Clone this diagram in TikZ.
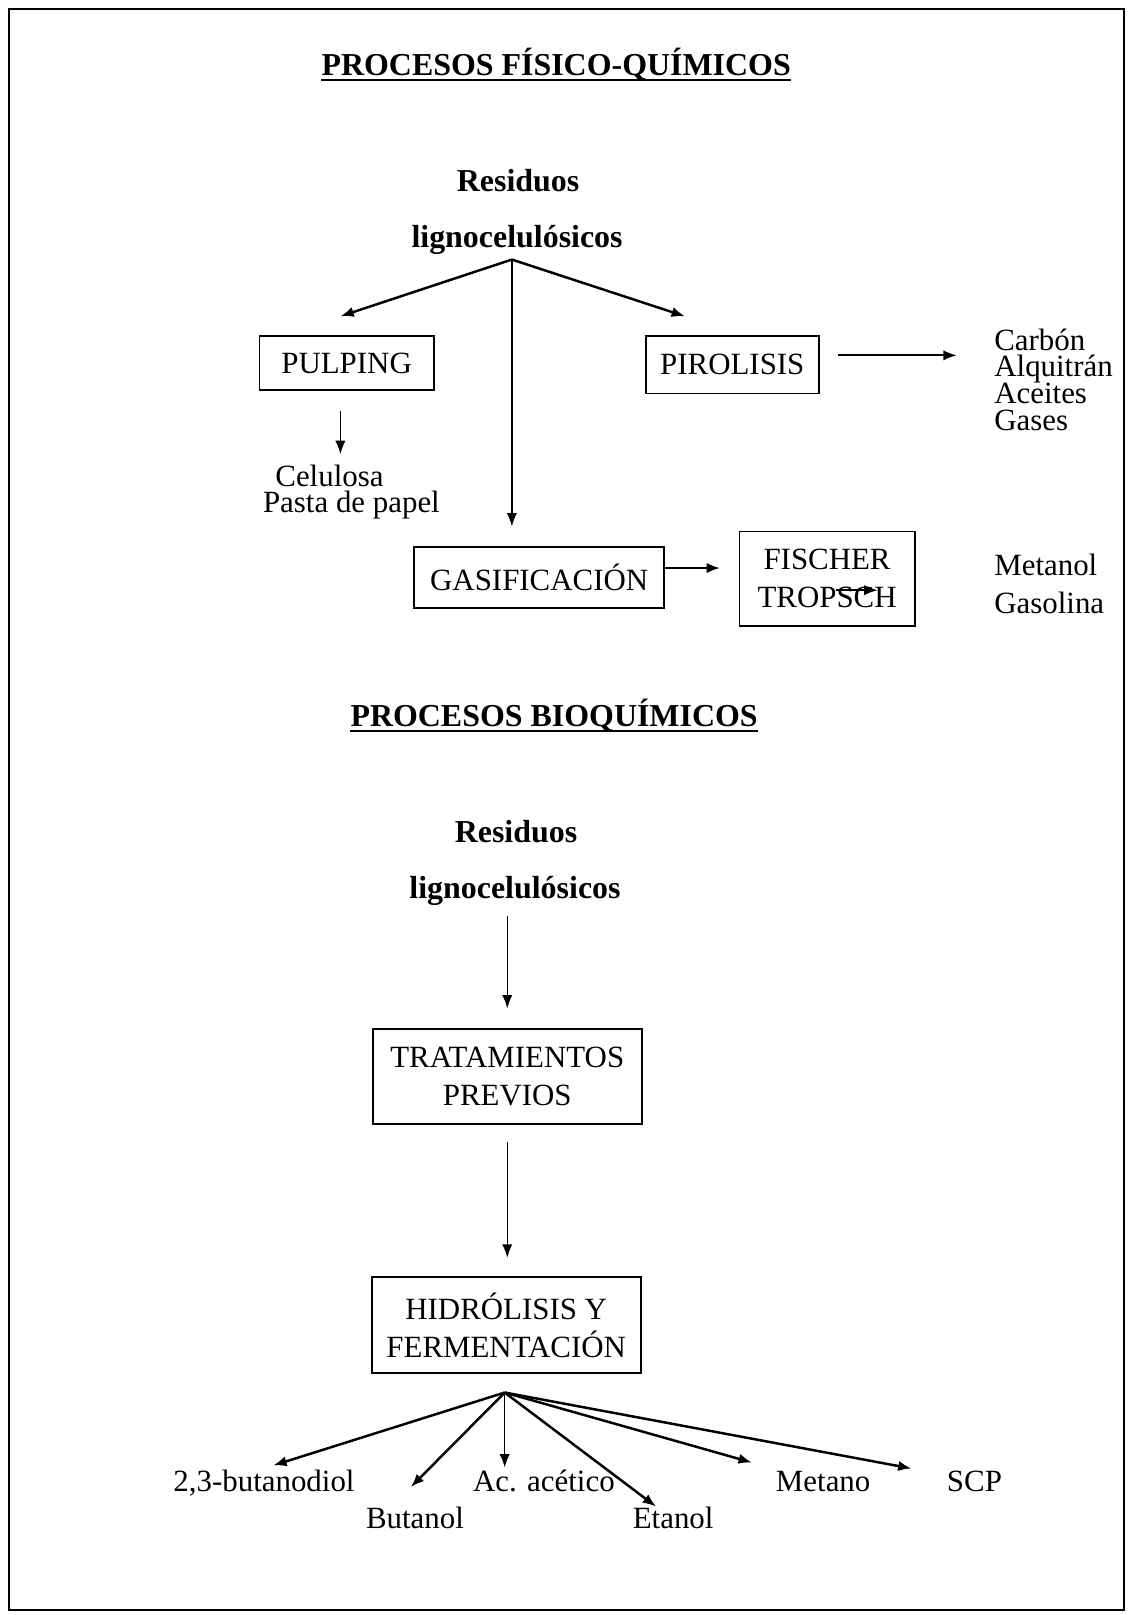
\documentclass[tikz,border=0pt]{standalone}
\usepackage{fontspec}
\setmainfont{Liberation Serif}
\usetikzlibrary{arrows.meta}

\begin{document}
\begin{tikzpicture}[x=0.5pt, y=-0.5pt, >={Latex[length=6.5pt,width=5pt]}, font=\fontsize{15}{18.5}\selectfont,
		box/.style={draw, line width=0.9pt, inner sep=0pt, align=center},
		lbl/.style={inner sep=0pt, anchor=base west},
		ttl/.style={inner sep=0pt, anchor=base, font=\fontsize{15.5}{18}\selectfont\bfseries},
		thin arrow/.style={->, line width=0.7pt},
		thick arrow/.style={->, line width=1.2pt}]
		\useasboundingbox (0,0) rectangle (1100,1568);
		\draw[line width=1pt] (9,9) rectangle (1091,1563);
		
		% procesos fisico-quimicos
		\node[ttl] (fq) at (540,73) {PROCESOS FÍSICO-QUÍMICOS};
		\draw[line width=1pt] ([yshift=-2.5pt]fq.base west) -- ([yshift=-2.5pt]fq.base east);
		\node[ttl] (res1) at (503,186) {Residuos};
		\node[ttl] (lig1) at (502,240) {lignocelulósicos};
		\coordinate (src1) at (497,252);
		
		\node[box, minimum width=84.5pt, minimum height=26.5pt] (pulping) at (336.5,352.5) {PULPING};
		\node[box, minimum width=84pt, minimum height=28pt] (pirolisis) at (711,354) {PIROLISIS};
		\node[box, minimum width=121.5pt, minimum height=29.5pt] (gasif) at (523.5,560.5) {GASIFICACIÓN};
		\node[box, minimum width=85pt, minimum height=46pt] (fischer) at (803,562) {FISCHER\\TROPSCH};
		
		\node[lbl] (celulosa) at (267,472) {Celulosa};
		\node[lbl] (pasta) at (255,498) {Pasta de papel};
		\node[lbl] (carbon) at (965,340) {Carbón};
		\node[lbl] (alquitran) at (965,366) {Alquitrán};
		\node[lbl] (aceites) at (965,392) {Aceites};
		\node[lbl] (gases) at (965,418) {Gases};
		\node[lbl] (metanol) at (965,559) {Metanol};
		\node[lbl] (gasolina) at (965,596) {Gasolina};
		
		\draw[thick arrow] (src1) -- ([xshift=-3pt,yshift=9pt]pulping.north);
		\draw[thick arrow] (src1) -- ([xshift=-23pt,yshift=9pt]pirolisis.north);
		\draw[thin arrow, shorten >=9.5pt] (src1) -- (src1 |- gasif.north);
		\draw[thin arrow] ([xshift=-3pt,yshift=-9.5pt]pulping.south) -- ++(0,42);
		\draw[->, line width=0.9pt] ([xshift=9pt,yshift=4.5pt]pirolisis.east) -- ++(115,0);
		\draw[->, line width=1.1pt, shorten >=9pt] ([yshift=4.5pt]gasif.east) -- ([yshift=4.5pt]gasif.east -| fischer.west);
		\draw[thin arrow] ([xshift=4.5pt,yshift=-5.5pt]fischer.center) -- ++(40,0);
		
		% procesos bioquimicos
		\node[ttl] (bq) at (538,705) {PROCESOS BIOQUÍMICOS};
		\draw[line width=1pt] ([yshift=-2.5pt]bq.base west) -- ([yshift=-2.5pt]bq.base east);
		\node[ttl] (res2) at (501,818) {Residuos};
		\node[ttl] (lig2) at (500,872) {lignocelulósicos};
		
		\node[box, minimum width=130.5pt, minimum height=46pt] (tratam) at (492.5,1045) {TRATAMIENTOS\\PREVIOS};
		\node[box, minimum width=130.5pt, minimum height=46.5pt] (hidrol) at (491.5,1286.5) {HIDRÓLISIS Y\\FERMENTACIÓN};
		\coordinate (src2) at (490,1352);
		
		\node[lbl] (diol) at (168,1448) {2,3-butanodiol};
		\node[lbl] (butanol) at (355,1484) {Butanol};
		\node[lbl] (acetico) at (459,1448) {Ac. acético};
		\node[lbl] (etanol) at (614,1484) {Etanol};
		\node[lbl] (metano) at (753,1448) {Metano};
		\node[lbl] (scp) at (919,1448) {SCP};
		
		\draw[thin arrow, shorten >=9.5pt] ([yshift=-5pt]lig2.south -| tratam.north) -- (tratam.north);
		\draw[thin arrow, shorten <=8.5pt, shorten >=9pt] (tratam.south) -- (tratam.south |- hidrol.north);
		
		\draw[thick arrow] (src2) -- ([xshift=4.5pt,yshift=2pt]diol.north);
		\draw[thick arrow] (src2) -- ([xshift=-2pt,yshift=9.5pt]butanol.north);
		\draw[thin arrow, shorten >=1pt] (src2) -- (src2 |- acetico.north);
		\draw[thick arrow] (src2) -- ([xshift=11.5pt]etanol.north west);
		\draw[thick arrow] (src2) -- ([xshift=-11.5pt,yshift=4pt]metano.north west);
		\draw[thick arrow] (src2) -- ([xshift=-17pt,yshift=1pt]scp.north west);
	\end{tikzpicture}
\end{document}
